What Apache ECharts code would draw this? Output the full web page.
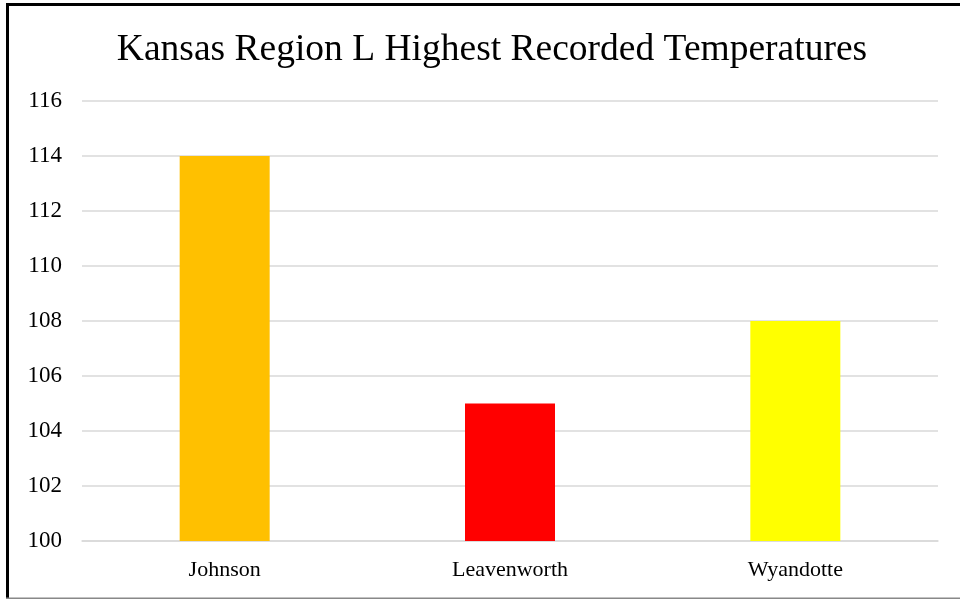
<!DOCTYPE html>
<html>
<head>
<meta charset="utf-8">
<script src="https://cdn.jsdelivr.net/npm/echarts@6/dist/echarts.min.js"></script>
<style>html,body{margin:0;padding:0;background:#fff}#c{width:960px;height:599px}</style>
</head>
<body>
<div id="c"></div>
<script>
const categories = ['Johnson', 'Leavenworth', 'Wyandotte'];
const values = [114, 105, 108];
const barColors = ['#FFC000', '#FF0000', '#FFFF00'];
const titleText = 'Kansas Region L Highest Recorded Temperatures';

const chart = echarts.init(document.getElementById('c'), null, {renderer: 'canvas'});
const font = '"Liberation Serif", "Times New Roman", serif';
chart.setOption({
  animation: false,
  backgroundColor: '#fff',
  title: {
    text: titleText,
    left: 487, top: 26, textAlign: 'center',
    textStyle: {fontFamily: font, fontSize: 37.5, fontWeight: 'normal', color: '#000'}
  },
  graphic: [
    {type: 'line', shape: {x1: 6, y1: 4.5, x2: 960, y2: 4.5}, style: {stroke: '#000', lineWidth: 3}, silent: true},
    {type: 'line', shape: {x1: 7.5, y1: 3, x2: 7.5, y2: 599}, style: {stroke: '#000', lineWidth: 3}, silent: true},
    {type: 'line', shape: {x1: 6, y1: 598.5, x2: 960, y2: 598.5}, style: {stroke: '#888', lineWidth: 2}, silent: true}
  ],
  grid: {left: 82, right: 22, top: 101, bottom: 58, containLabel: false},
  xAxis: {
    type: 'category', data: categories,
    axisLine: {show: true, lineStyle: {color: '#d9d9d9', width: 1.5}},
    axisTick: {show: false},
    axisLabel: {fontFamily: font, fontSize: 22, color: '#000', margin: 18}
  },
  yAxis: {
    type: 'value', min: 100, max: 116, interval: 2,
    axisLine: {show: false}, axisTick: {show: false},
    splitLine: {lineStyle: {color: '#d9d9d9', width: 1.5}},
    axisLabel: {fontFamily: font, fontSize: 23, color: '#000', margin: 20}
  },
  series: [{
    type: 'bar', barWidth: 90,
    data: values.map((v, i) => ({value: v, itemStyle: {color: barColors[i]}}))
  }]
});
</script>
</body>
</html>
